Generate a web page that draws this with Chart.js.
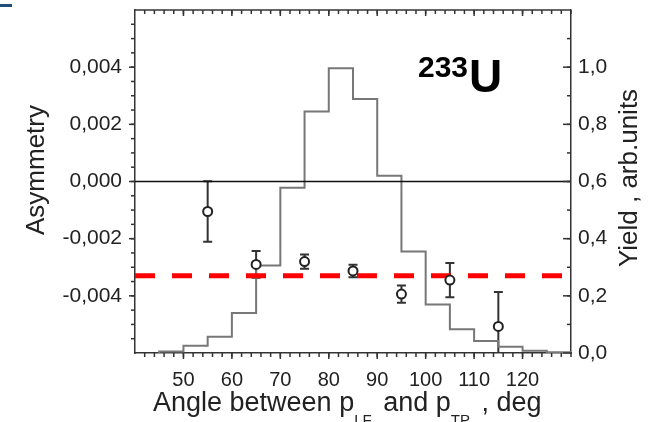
<!DOCTYPE html>
<html>
<head>
<meta charset="utf-8">
<script src="https://cdn.jsdelivr.net/npm/chart.js@4/dist/chart.umd.min.js"></script>
<style>
  html, body { margin: 0; padding: 0; background: #fff; }
  #wrap { position: relative; width: 654px; height: 422px; }
  #corner { position: absolute; left: 0; top: 4px; width: 12px; height: 3px; background: #1f4e79; }
</style>
</head>
<body>
<div id="wrap">
  <canvas id="asymChart" width="654" height="422"></canvas>
  <div id="corner"></div>
</div>
<script>
// yield histogram (right axis), 5 deg bins starting at 45
const binStarts = [45, 50, 55, 60, 65, 70, 75, 80, 85, 90, 95, 100, 105, 110, 115, 120, 125];
const binEnd = 130;
const yieldValues = [0.005, 0.025, 0.057, 0.14, 0.306, 0.578, 0.845, 0.996, 0.889, 0.62, 0.355, 0.17, 0.083, 0.042, 0.022, 0.008, 0.003];

// measured asymmetry (left axis)
const angles = [55, 65, 75, 85, 95, 105, 115];
const asymmetry = [-0.00105, -0.0029, -0.0028, -0.00313, -0.00394, -0.00345, -0.00507];
const asymErr = [0.00106, 0.00047, 0.00025, 0.00022, 0.0003, 0.0006, 0.0012];
const meanAsym = -0.0033;

const xTicks = [50, 60, 70, 80, 90, 100, 110, 120];
const asymTicks = [-0.004, -0.002, 0, 0.002, 0.004];
const yieldTicks = [0, 0.2, 0.4, 0.6, 0.8, 1.0];

const isotopeMass = "233";
const isotopeName = "U";
const yTitle = "Asymmetry";
const y2Title = "Yield , arb.units";
const xTitleParts = [
    { text: "Angle between p" }, { text: "LF", sub: true },
    { text: " and p" }, { text: "TP", sub: true }, { text: " , deg" }
];

const FONT = "'Liberation Sans', Arial, sans-serif";
const TEXT = "#222";
const AXIS = "#333";

// value of each bin is carried by the point at the bin's right edge
const histPoints = [{ x: binStarts[0], y: 0 }];
binStarts.forEach((x, i) => {
    const right = i + 1 < binStarts.length ? binStarts[i + 1] : binEnd;
    histPoints.push({ x: right, y: yieldValues[i] });
});

const asymPoints = angles.map((x, i) => ({ x, y: asymmetry[i] }));

const errorBars = {
    id: "errorBars",
    beforeDatasetsDraw(chart) {
        const { ctx, chartArea, scales } = chart;
        ctx.save();
        ctx.beginPath();
        ctx.rect(chartArea.left, chartArea.top, chartArea.width, chartArea.height);
        ctx.clip();
        ctx.strokeStyle = AXIS;
        ctx.lineWidth = 2;
        angles.forEach((a, i) => {
            const px = scales.x.getPixelForValue(a);
            const top = scales.y.getPixelForValue(asymmetry[i] + asymErr[i]);
            const bot = scales.y.getPixelForValue(asymmetry[i] - asymErr[i]);
            ctx.beginPath();
            ctx.moveTo(px, top); ctx.lineTo(px, bot);
            ctx.moveTo(px - 4.5, top); ctx.lineTo(px + 4.5, top);
            ctx.moveTo(px - 4.5, bot); ctx.lineTo(px + 4.5, bot);
            ctx.stroke();
        });
        ctx.restore();
    }
};

function tickMarks(ctx, scale, values, len, side, area) {
    values.forEach(v => {
        const p = scale.getPixelForValue(v);
        ctx.beginPath();
        if (side === "bottom") { ctx.moveTo(p, area.bottom); ctx.lineTo(p, area.bottom + len); }
        if (side === "top") { ctx.moveTo(p, area.top); ctx.lineTo(p, area.top + len); }
        if (side === "left") { ctx.moveTo(area.left, p); ctx.lineTo(area.left - len, p); }
        if (side === "right") { ctx.moveTo(area.right, p); ctx.lineTo(area.right - len, p); }
        ctx.stroke();
    });
}

function steps(min, max, step) {
    const out = [];
    for (let v = min; v <= max + step / 100; v += step) out.push(+v.toFixed(6));
    return out;
}

const frameAndLabels = {
    id: "frameAndLabels",
    afterDraw(chart) {
        const { ctx, chartArea: a, scales } = chart;
        ctx.save();
        ctx.strokeStyle = AXIS;
        ctx.lineWidth = 1.5;
        // top border
        ctx.beginPath();
        ctx.moveTo(a.left, a.top); ctx.lineTo(a.right, a.top);
        ctx.stroke();

        const xMinor = steps(42, 130, 2);
        tickMarks(ctx, scales.x, xMinor, 4, "bottom", a);
        tickMarks(ctx, scales.x, xTicks, 6, "bottom", a);
        tickMarks(ctx, scales.x, xMinor, 4, "top", a);
        tickMarks(ctx, scales.x, xTicks, 6, "top", a);
        tickMarks(ctx, scales.y, steps(-0.0055, 0.0055, 0.0005), 4, "left", a);
        tickMarks(ctx, scales.y, asymTicks, 6, "left", a);
        tickMarks(ctx, scales.y2, steps(0.1, 1.1, 0.1), 4, "right", a);
        tickMarks(ctx, scales.y2, yieldTicks, 8, "right", a);

        ctx.fillStyle = TEXT;
        ctx.textBaseline = "middle";
        ctx.textAlign = "center";
        ctx.font = "26px " + FONT;
        // left title
        ctx.save();
        ctx.translate(37, 170);
        ctx.rotate(-Math.PI / 2);
        ctx.fillText(yTitle, 0, 0);
        ctx.restore();
        // right title, reads bottom to top
        ctx.save();
        ctx.translate(630, 178);
        ctx.rotate(-Math.PI / 2);
        ctx.fillText(y2Title, 0, 0);
        ctx.restore();

        // bottom title with subscripts
        ctx.textAlign = "left";
        ctx.textBaseline = "alphabetic";
        let x = 153;
        xTitleParts.forEach(part => {
            ctx.font = (part.sub ? "15px " : "27px ") + FONT;
            ctx.fillText(part.text, x, part.sub ? 425 : 411);
            x += ctx.measureText(part.text).width + (part.sub ? 4 : 0);
        });

        // isotope label
        ctx.fillStyle = "#000";
        ctx.font = "bold 30px " + FONT;
        ctx.fillText(isotopeMass, 418, 77);
        const w = ctx.measureText(isotopeMass).width;
        ctx.font = "bold 46px " + FONT;
        ctx.fillText(isotopeName, 418 + w + 1, 92);
        ctx.restore();
    }
};

new Chart(document.getElementById("asymChart"), {
    type: "scatter",
    data: {
        datasets: [
            {
                label: "Asymmetry",
                data: asymPoints,
                yAxisID: "y",
                pointRadius: 4.5,
                pointBackgroundColor: "#fff",
                pointBorderColor: "#222",
                pointBorderWidth: 2,
                order: 0
            },
            {
                type: "line",
                label: "Mean",
                data: [{ x: 40, y: meanAsym }, { x: 130, y: meanAsym }],
                yAxisID: "y",
                borderColor: "#ff0000",
                borderWidth: 5,
                borderDash: [20, 17],
                pointRadius: 0,
                order: 1
            },
            {
                type: "line",
                label: "Zero",
                data: [{ x: 40, y: 0 }, { x: 130, y: 0 }],
                yAxisID: "y",
                borderColor: "#111",
                borderWidth: 1.5,
                pointRadius: 0,
                order: 2
            },
            {
                type: "line",
                label: "Yield",
                data: histPoints,
                yAxisID: "y2",
                stepped: "after",
                borderColor: "#777",
                borderWidth: 2,
                pointRadius: 0,
                fill: false,
                order: 3
            }
        ]
    },
    options: {
        responsive: false,
        animation: false,
        devicePixelRatio: 1,
        layout: { padding: { left: 0, right: 0, top: 10, bottom: 0 } },
        plugins: {
            legend: { display: false },
            tooltip: { enabled: false }
        },
        scales: {
            x: {
                type: "linear",
                min: 40,
                max: 130,
                afterBuildTicks: s => { s.ticks = xTicks.map(v => ({ value: v })); },
                afterFit: s => { s.height = 69; s.paddingLeft = 0; s.paddingRight = 0; },
                grid: { drawOnChartArea: false, drawTicks: false },
                border: { display: true, color: AXIS, width: 1.5 },
                ticks: { padding: 15, color: TEXT, font: { family: FONT, size: 20 }, maxRotation: 0 }
            },
            y: {
                type: "linear",
                position: "left",
                min: -0.006,
                max: 0.006,
                afterBuildTicks: s => { s.ticks = asymTicks.map(v => ({ value: v })); },
                afterFit: s => { s.width = 135; s.paddingTop = 0; s.paddingBottom = 0; },
                grid: { drawOnChartArea: false, drawTicks: false },
                border: { display: true, color: AXIS, width: 1.5 },
                ticks: {
                    padding: 13,
                    color: TEXT,
                    font: { family: FONT, size: 21 },
                    callback: v => v.toFixed(3).replace(".", ",")
                }
            },
            y2: {
                type: "linear",
                position: "right",
                min: 0,
                max: 1.2,
                afterBuildTicks: s => { s.ticks = yieldTicks.map(v => ({ value: v })); },
                afterFit: s => { s.width = 83; s.paddingTop = 0; s.paddingBottom = 0; },
                grid: { drawOnChartArea: false, drawTicks: false },
                border: { display: true, color: AXIS, width: 1.5 },
                ticks: {
                    padding: 7,
                    color: TEXT,
                    font: { family: FONT, size: 21 },
                    callback: v => v.toFixed(1).replace(".", ",")
                }
            }
        }
    },
    plugins: [errorBars, frameAndLabels]
});
</script>
</body>
</html>
